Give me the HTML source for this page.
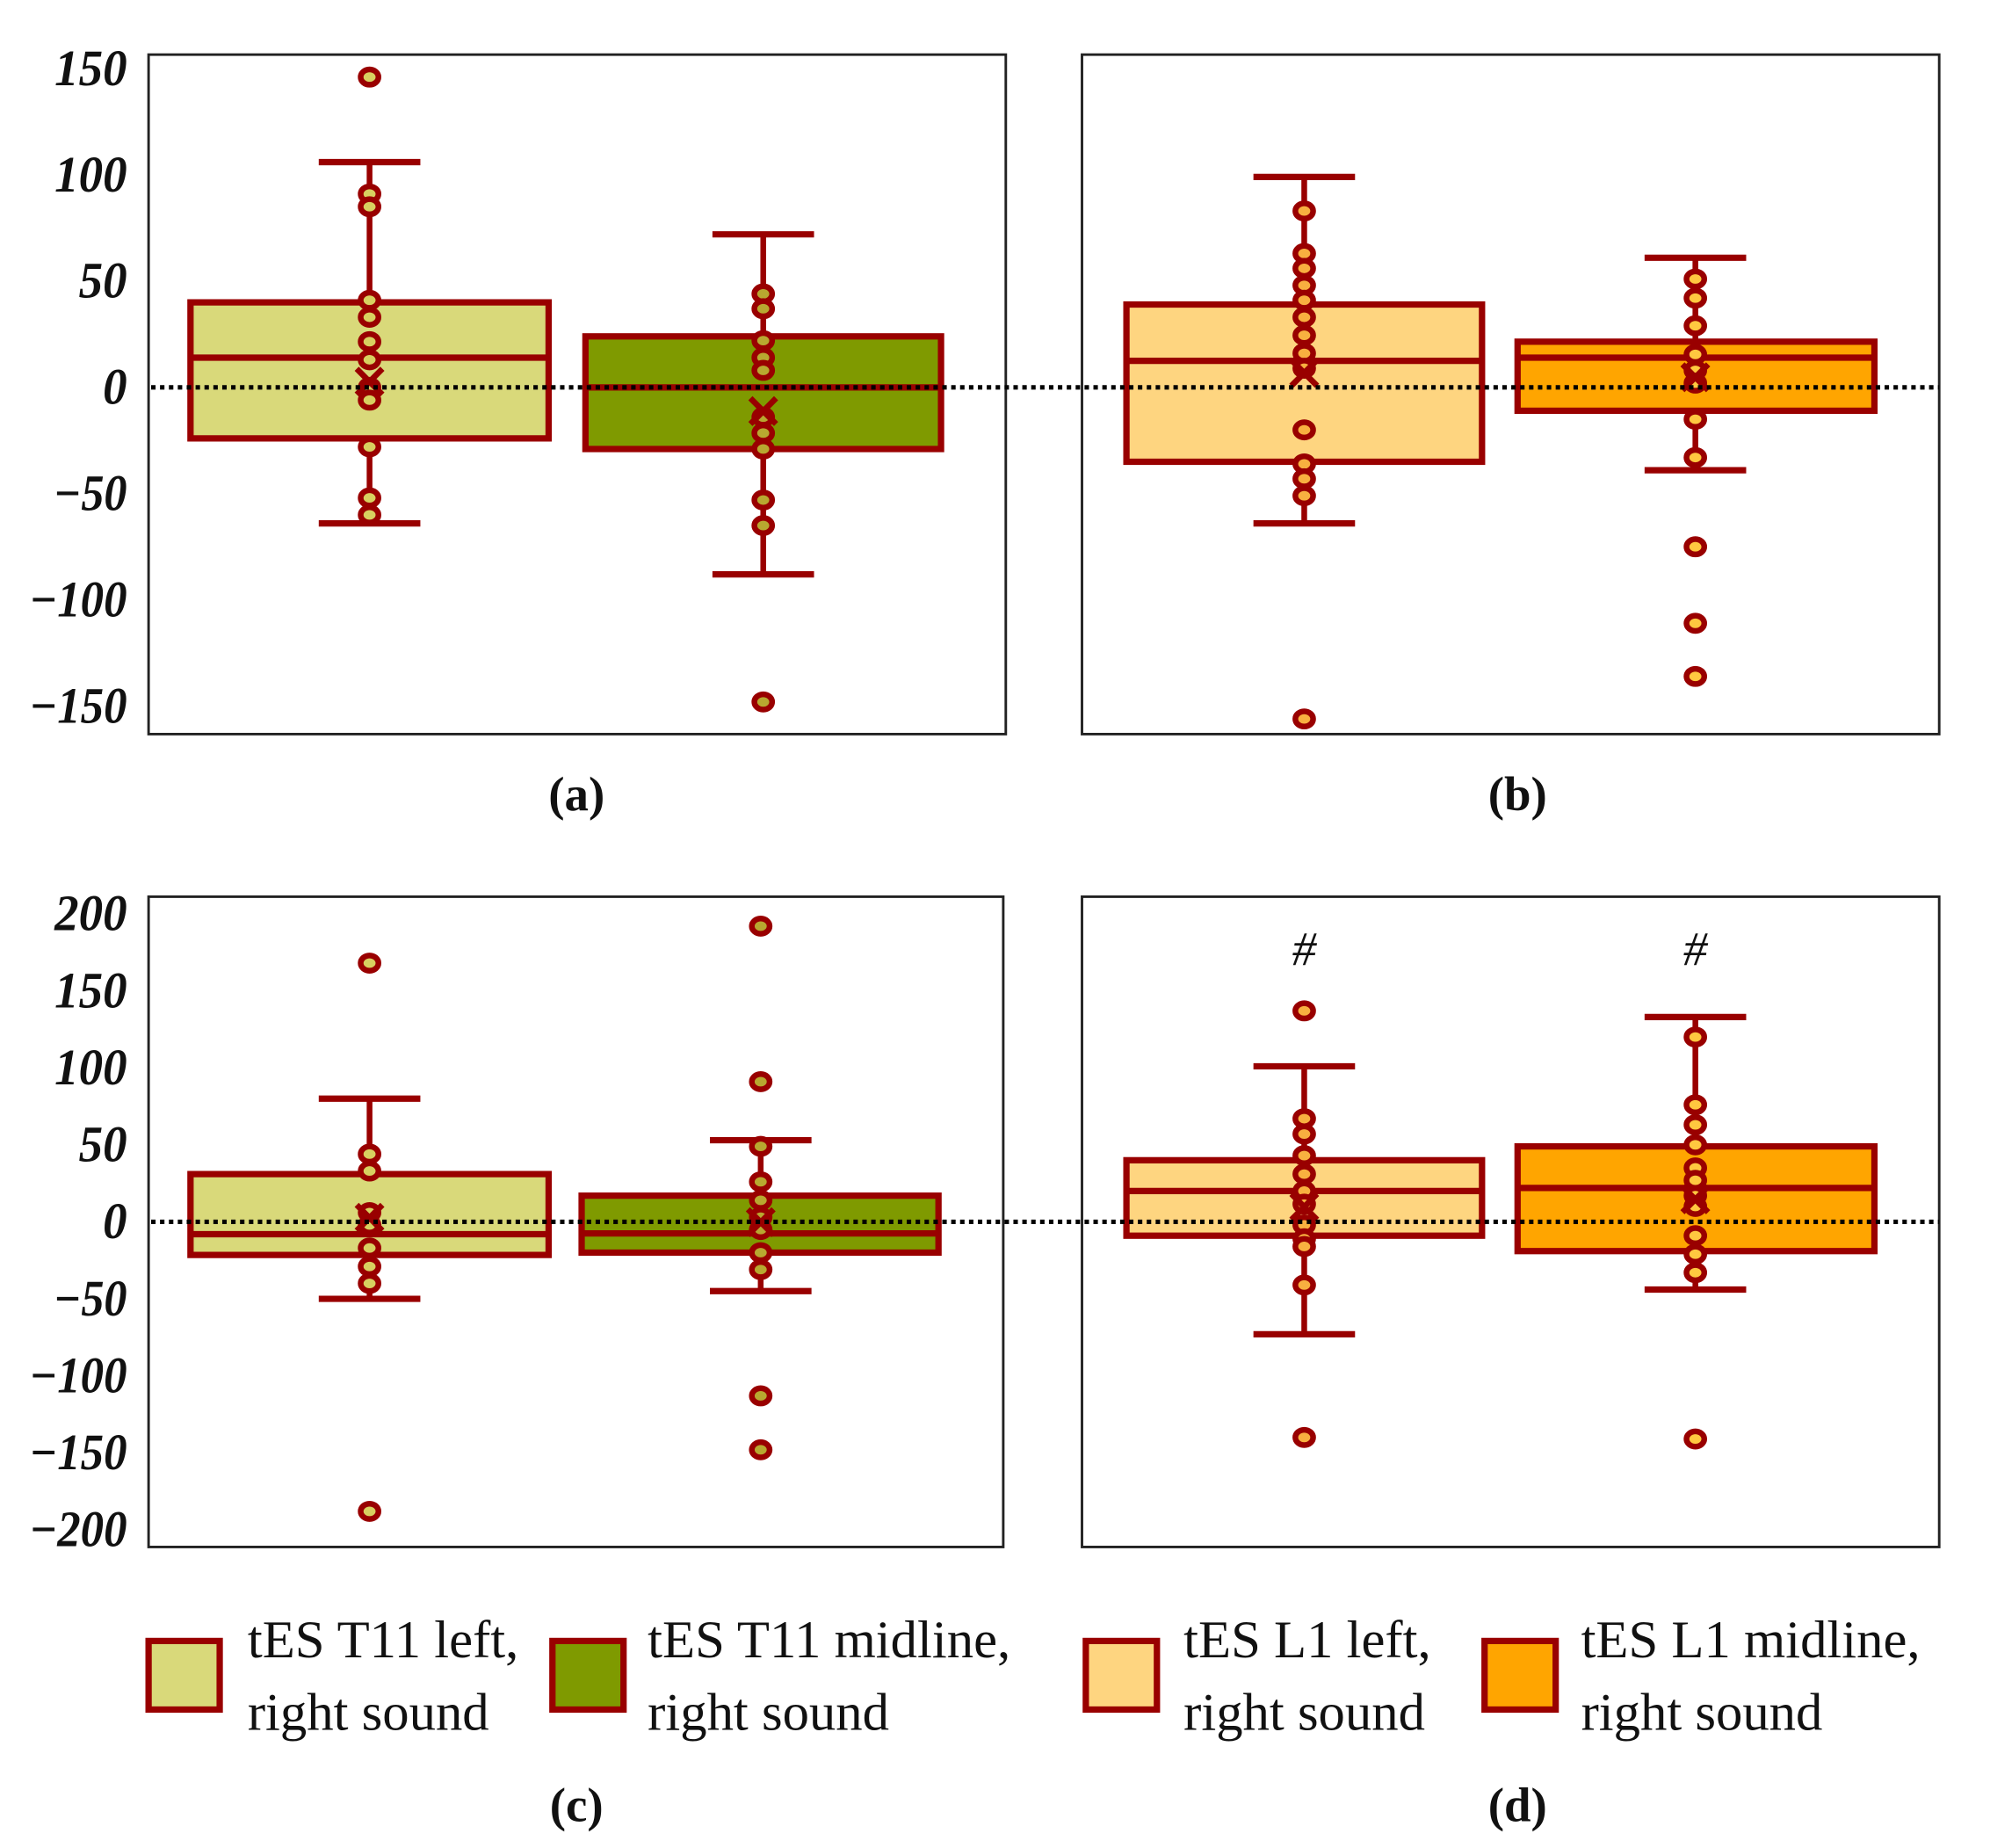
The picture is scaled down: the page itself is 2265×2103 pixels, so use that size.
<!DOCTYPE html>
<html><head><meta charset="utf-8"><style>
html,body{margin:0;padding:0;background:#fff;}
svg{display:block;}
</style></head><body>
<svg id="fig" width="2265" height="2103" viewBox="0 0 1567 1455" preserveAspectRatio="none" xmlns="http://www.w3.org/2000/svg"></svg>
<script>
// ---- data ----
const panelNames = ['a','b','c','d'];
const groupNames = ['tES T11 left, right sound','tES T11 midline, right sound','tES L1 left, right sound','tES L1 midline, right sound'];
const ticksTop = [150,100,50,0,-50,-100,-150];
const ticksBottom = [200,150,100,50,0,-50,-100,-150,-200];
// [whiskerLow, q1, median, q3, whiskerHigh, mean]
const statsA1 = [-64,-24,14,40,106,3];
const statsA2 = [-88,-29,0,24,72,-11];
const statsB1 = [-64,-35,12.5,39,99,7];
const statsB2 = [-39,-11,14,21.5,61,5];
const statsC1 = [-50,-21.5,-8,31,80,3];
const statsC2 = [-45,-20,-7.5,17,53,0];
const statsD1 = [-73,-9,20,40,101,10];
const statsD2 = [-44,-19,22,49,133,15];
const pointsA1 = [146,91,85,41,33,21.5,13,0,-6,-28,-52,-60];
const pointsA2 = [44,37,22,14,8,-14,-21.5,-29,-53,-65,-148];
const pointsB1 = [83,63,56,48,41,33,24.5,16,9,-20,-36,-43,-51,-156];
const pointsB2 = [51,42,29,15.5,8,2,-15,-33,-75,-111,-136];
const pointsC1 = [168,44,33,6,-2,-17,-29,-40,-188];
const pointsC2 = [192,91,49,26,14,3,-5,-20,-31,-113,-148];
const pointsD1 = [137,67,57,43,31,20,11.5,-2,-11,-16,-41,-140];
const pointsD2 = [120,76,63,50,35,27,17,10,-9,-21,-33,-141];

const svg = document.getElementById('fig');
const NS = 'http://www.w3.org/2000/svg';
const RED = '#990000';
function mk(tag, attrs, parent){
  const e = document.createElementNS(NS, tag);
  for (const k in attrs) e.setAttribute(k, attrs[k]);
  (parent||svg).appendChild(e);
  return e;
}
const fillColors = ['#d9d97a','#7f9a00','#fed580','#ffa500'];
const dotFill = ['#d8d060','#b8a830','#f8b040','#ffc840'];

const panels = [
  {x0:117,x1:792,y0:43,y1:578,zero:305,scale:251/150,ticks:ticksTop,
   boxes:[{c:291,l:150,r:432,s:statsA1,p:pointsA1,f:0},{c:601,l:461,r:741,s:statsA2,p:pointsA2,f:1}],label:[454,626],hash:false},
  {x0:852,x1:1527,y0:43,y1:578,zero:305,scale:251/150,ticks:null,
   boxes:[{c:1027,l:887,r:1167,s:statsB1,p:pointsB1,f:2},{c:1335,l:1195,r:1476,s:statsB2,p:pointsB2,f:3}],label:[1195,626],hash:false},
  {x0:117,x1:790,y0:706,y1:1218,zero:962,scale:242.5/200,ticks:ticksBottom,
   boxes:[{c:291,l:150,r:432,s:statsC1,p:pointsC1,f:0},{c:599,l:458,r:739,s:statsC2,p:pointsC2,f:1}],label:[454,1422],hash:false},
  {x0:852,x1:1527,y0:706,y1:1218,zero:962,scale:242.5/200,ticks:null,
   boxes:[{c:1027,l:887,r:1167,s:statsD1,p:pointsD1,f:2},{c:1335,l:1195,r:1476,s:statsD2,p:pointsD2,f:3}],label:[1195,1422],hash:true}
];

panels.forEach((P,pi)=>{
  const g = mk('g',{});
  
  
  const y = v => P.zero - v*P.scale;
  const fr = mk('rect',{x:P.x0,y:P.y0,width:P.x1-P.x0,height:P.y1-P.y0,fill:'none',stroke:'#222','stroke-width':2},g);
  
  
  if (P.ticks){
    P.ticks.forEach(t=>{
      const tx = mk('text',{x:100,y:y(t)+13,'text-anchor':'end','font-family':'"Liberation Serif",serif','font-style':'italic','font-weight':'bold','font-size':40,fill:'#111',textLength:(String(Math.abs(t)).length*19+(t<0?20:0)),lengthAdjust:'spacingAndGlyphs'},g);
      tx.textContent = t<0 ? '\u2212'+Math.abs(t) : String(t);
      
      
    });
  }
  P.boxes.forEach((B,bi)=>{
    const s = B.s;
    const bg = mk('g',{},g);
    
    
    const hw = 40;
    mk('line',{x1:B.c,x2:B.c,y1:y(s[4]),y2:y(s[3]),stroke:RED,'stroke-width':4.5},bg);
    mk('line',{x1:B.c,x2:B.c,y1:y(s[1]),y2:y(s[0]),stroke:RED,'stroke-width':4.5},bg);
    mk('line',{x1:B.c-hw,x2:B.c+hw,y1:y(s[4]),y2:y(s[4]),stroke:RED,'stroke-width':5},bg);
    mk('line',{x1:B.c-hw,x2:B.c+hw,y1:y(s[0]),y2:y(s[0]),stroke:RED,'stroke-width':5},bg);
    mk('rect',{x:B.l,y:y(s[3]),width:B.r-B.l,height:y(s[1])-y(s[3]),fill:fillColors[B.f],stroke:RED,'stroke-width':5},bg);
    mk('line',{x1:B.l,x2:B.r,y1:y(s[2]),y2:y(s[2]),stroke:RED,'stroke-width':5},bg);
    B.p.forEach(v=>{
      const c = mk('ellipse',{cx:B.c,cy:y(v),rx:7,ry:6,fill:dotFill[B.f],stroke:RED,'stroke-width':4.5},bg);
      
      
    });
    const m = mk('text',{x:B.c,y:y(s[5])+13,'text-anchor':'middle','font-family':'"DejaVu Sans",sans-serif','font-weight':'bold','font-size':40,fill:RED},bg);
    m.textContent = '\u00d7';
    
    
    if (P.hash){
      const h = mk('text',{x:B.c,y:760,'text-anchor':'middle','font-family':'"Liberation Serif",serif','font-style':'italic','font-size':38,fill:'#111'},g);
      h.textContent = '#';
      
      
    }
  });
  const lb = mk('text',{x:P.label[0],y:P.label[1]+12,'text-anchor':'middle','font-family':'"Liberation Serif",serif','font-weight':'bold','font-size':38,fill:'#111'},g);
  lb.textContent = '('+panelNames[pi]+')';
  
  
});
// zero reference lines spanning both panels
[305,962].forEach(yy=>{
  const l = mk('line',{x1:119,x2:1527,y1:yy,y2:yy,stroke:'#000','stroke-width':3.5,'stroke-dasharray':'3.5 3.5'});
  
  
});
// legend
const legX = [117,435,855,1169];
const legTX = [195,510,932,1245];
groupNames.forEach((n,i)=>{
  const g = mk('g',{});
  
  
  mk('rect',{x:legX[i],y:1292,width:56,height:54,fill:fillColors[i],stroke:RED,'stroke-width':5},g);
  const parts = n.split(', ');
  const t1 = mk('text',{x:legTX[i],y:1305,'font-family':'"Liberation Serif",serif','font-size':42,fill:'#111'},g);
  t1.textContent = parts[0]+',';
  const t2 = mk('text',{x:legTX[i],y:1362,'font-family':'"Liberation Serif",serif','font-size':42,fill:'#111'},g);
  t2.textContent = parts[1];
});
</script>
</body></html>
